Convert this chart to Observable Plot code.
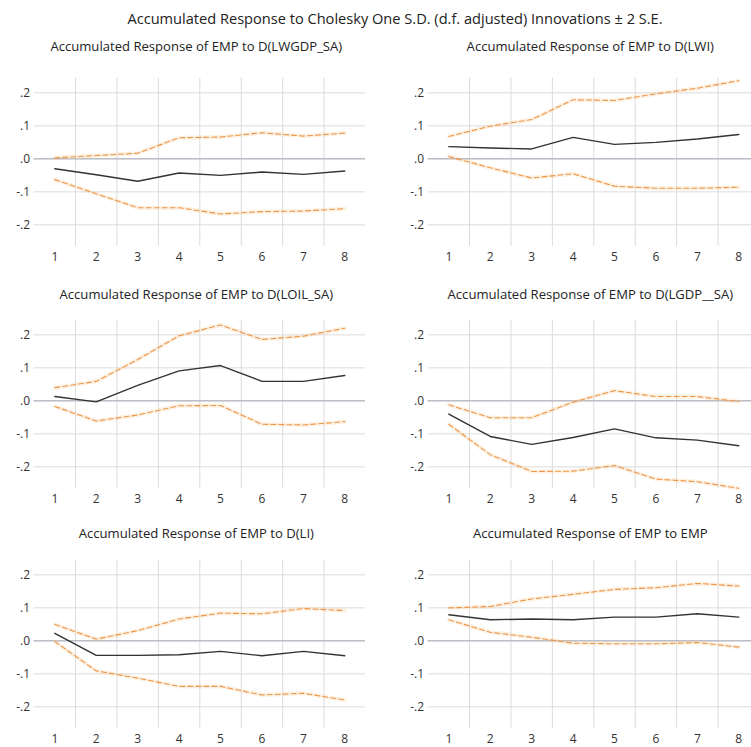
<!DOCTYPE html>
<html>
<head>
<meta charset="utf-8">
<script src="https://cdn.jsdelivr.net/npm/d3@7"></script>
<script src="https://cdn.jsdelivr.net/npm/@observablehq/plot@0.6"></script>
<style>
  html, body { margin: 0; padding: 0; background: #fff; overflow: hidden; }
  #root { position: relative; width: 751px; height: 747px; overflow: hidden; background: #fff;
          font-family: "Open Sans", "Noto Sans", sans-serif; color: #222; }
  .main-title { position: absolute; left: 0; top: 8px; width: 790px; text-align: center; font-size: 14.6px; }
  .panel { position: absolute; }
  .ptitle { position: absolute; white-space: nowrap; font-size: 13.1px; transform: translateX(-50%); }
  .panel svg { display: block; max-width: none; }
</style>
</head>
<body>
<div id="root">
  <div class="main-title">Accumulated Response to Cholesky One S.D. (d.f. adjusted) Innovations ± 2 S.E.</div>
</div>
<script>
// ---- data ----
const periods = [1, 2, 3, 4, 5, 6, 7, 8];
const yTicks = [0.2, 0.1, 0, -0.1, -0.2];
const yTickLabels = [".2", ".1", ".0", "-.1", "-.2"];

const titles = [
  "Accumulated Response of EMP to D(LWGDP_SA)",
  "Accumulated Response of EMP to D(LWI)",
  "Accumulated Response of EMP to D(LOIL_SA)",
  "Accumulated Response of EMP to D(LGDP__SA)",
  "Accumulated Response of EMP to D(LI)",
  "Accumulated Response of EMP to EMP"
];

const respLWGDP  = [-0.030, -0.048, -0.068, -0.043, -0.050, -0.040, -0.047, -0.037];
const upperLWGDP = [0.003, 0.010, 0.017, 0.064, 0.066, 0.079, 0.069, 0.078];
const lowerLWGDP = [-0.063, -0.106, -0.148, -0.148, -0.167, -0.160, -0.158, -0.151];

const respLWI  = [0.037, 0.033, 0.030, 0.065, 0.044, 0.050, 0.060, 0.074];
const upperLWI = [0.068, 0.099, 0.119, 0.179, 0.177, 0.197, 0.214, 0.237];
const lowerLWI = [0.007, -0.027, -0.058, -0.045, -0.083, -0.089, -0.089, -0.086];

const respLOIL  = [0.013, -0.003, 0.047, 0.091, 0.107, 0.059, 0.059, 0.077];
const upperLOIL = [0.040, 0.059, 0.125, 0.197, 0.230, 0.186, 0.196, 0.220];
const lowerLOIL = [-0.017, -0.061, -0.043, -0.015, -0.014, -0.071, -0.073, -0.063];

const respLGDP  = [-0.040, -0.108, -0.132, -0.111, -0.085, -0.112, -0.119, -0.136];
const upperLGDP = [-0.012, -0.051, -0.051, -0.004, 0.031, 0.013, 0.013, -0.002];
const lowerLGDP = [-0.071, -0.163, -0.214, -0.213, -0.196, -0.237, -0.245, -0.265];

const respLI  = [0.023, -0.044, -0.044, -0.042, -0.032, -0.045, -0.032, -0.045];
const upperLI = [0.050, 0.005, 0.031, 0.066, 0.084, 0.082, 0.098, 0.092];
const lowerLI = [-0.002, -0.091, -0.113, -0.138, -0.138, -0.164, -0.159, -0.179];

const respEMP  = [0.079, 0.064, 0.066, 0.064, 0.072, 0.072, 0.082, 0.072];
const upperEMP = [0.100, 0.104, 0.127, 0.141, 0.156, 0.161, 0.174, 0.166];
const lowerEMP = [0.064, 0.026, 0.011, -0.007, -0.009, -0.009, -0.005, -0.019];

const series = [
  [respLWGDP, upperLWGDP, lowerLWGDP],
  [respLWI, upperLWI, lowerLWI],
  [respLOIL, upperLOIL, lowerLOIL],
  [respLGDP, upperLGDP, lowerLGDP],
  [respLI, upperLI, lowerLI],
  [respEMP, upperEMP, lowerEMP]
];

// ---- layout ----
const root = document.getElementById("root");
const rowTops = [60, 301.7, 541.7];
const colDefs = [
  {left: 0, width: 375, marginLeft: 33.6, marginRight: 10},
  {left: 375, width: 376, marginLeft: 52.6, marginRight: -8}
];
const titleTops = [37, 285, 524];
const SVG_H = 204;

const boundaries = periods.slice(1).map(p => p - 0.5);
const ORANGE = "#ec9648";

series.forEach(([mid, up, lo], i) => {
  const row = Math.floor(i / 2), col = i % 2;
  const c = colDefs[col];
  const toRows = arr => periods.map((p, k) => ({period: p, value: arr[k]}));

  const chart = Plot.plot({
    width: c.width,
    height: SVG_H,
    marginLeft: c.marginLeft,
    marginRight: c.marginRight,
    marginTop: 17.5,
    marginBottom: 18.2,
    style: {fontFamily: "'Open Sans', sans-serif", fontSize: "12px", color: "#333", background: "white", overflow: "hidden"},
    x: {domain: [0.5, 8.5], ticks: periods, tickFormat: d => String(d), tickSize: 0, tickPadding: 6, label: null},
    y: {domain: [-0.265, 0.245], ticks: yTicks, tickFormat: d => yTickLabels[yTicks.indexOf(d)], tickSize: 0, tickPadding: 4, label: null},
    marks: [
      Plot.gridY(yTicks, {stroke: "#dcdcdc", strokeOpacity: 1}),
      Plot.ruleX(boundaries, {stroke: "#dcdcdc", strokeOpacity: 1}),
      Plot.ruleY([0], {stroke: "#a7a9b6", strokeWidth: 1}),
      Plot.line(toRows(up), {x: "period", y: "value", stroke: "#f6c98f", strokeOpacity: 0.25, strokeWidth: 4}),
      Plot.line(toRows(lo), {x: "period", y: "value", stroke: "#f6c98f", strokeOpacity: 0.25, strokeWidth: 4}),
      Plot.line(toRows(up), {x: "period", y: "value", stroke: ORANGE, strokeWidth: 1.1, strokeDasharray: "5,3"}),
      Plot.line(toRows(lo), {x: "period", y: "value", stroke: ORANGE, strokeWidth: 1.1, strokeDasharray: "5,3"}),
      Plot.line(toRows(mid), {x: "period", y: "value", stroke: "#333", strokeWidth: 1.4})
    ]
  });

  const panel = document.createElement("div");
  panel.className = "panel";
  panel.style.left = c.left + "px";
  panel.style.top = rowTops[row] + "px";
  panel.style.width = c.width + "px";
  panel.style.overflow = "hidden";
  panel.appendChild(chart);
  root.appendChild(panel);

  const t = document.createElement("div");
  t.className = "ptitle";
  t.textContent = titles[i];
  const plotLeft = c.left + c.marginLeft;
  const plotRight = c.left + c.width - c.marginRight;
  t.style.left = ((plotLeft + plotRight) / 2 - 3) + "px";
  t.style.top = titleTops[row] + "px";
  root.appendChild(t);
});
</script>
</body>
</html>
